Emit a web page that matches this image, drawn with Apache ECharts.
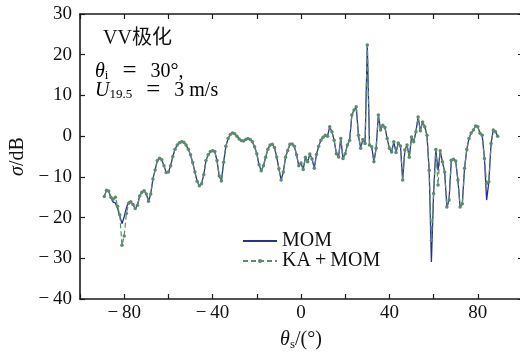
<!DOCTYPE html>
<html><head><meta charset="utf-8">
<script src="https://cdn.jsdelivr.net/npm/echarts@6/dist/echarts.min.js"></script>
<style>html,body{margin:0;padding:0;background:#fff;overflow:hidden}#c{width:520px;height:353px}</style>
</head><body><div id="c"></div>
<script>
const angles = [-89,-88,-87,-86,-85,-84,-83,-82,-81,-80,-79,-78,-77,-76,-75,-74,-73,-72,-71,-70,
-69,-68,-67,-66,-65,-64,-63,-62,-61,-60,-59,-58,-57,-56,-55,-54,-53,-52,-51,-50,
-49,-48,-47,-46,-45,-44,-43,-42,-41,-40,-39,-38,-37,-36,-35,-34,-33,-32,-31,-30,
-29,-28,-27,-26,-25,-24,-23,-22,-21,-20,-19,-18,-17,-16,-15,-14,-13,-12,-11,-10,
-9,-8,-7,-6,-5,-4,-3,-2,-1,0,1,2,3,4,5,6,7,8,9,10,
11,12,13,14,15,16,17,18,19,20,21,22,23,24,25,26,27,28,29,30,
31,32,33,34,35,36,37,38,39,40,41,42,43,44,45,46,47,48,49,50,
51,52,53,54,55,56,57,58,59,60,61,62,63,64,65,66,67,68,69,70,
71,72,73,74,75,76,77,78,79,80,81,82,83,84,85,86,87,88,89];

const momDb = [-14.8,-13.3,-13.5,-15.2,-16.2,-16.4,-17.8,-19.6,-21.5,-19.8,-17.6,-16.2,-16.1,-16.8,-17.8,-17.0,-14.7,-13.8,-13.4,-14.2,
-16.0,-14.2,-10.5,-8.3,-6.0,-5.4,-5.8,-7.3,-8.9,-8.8,-7.3,-5.0,-3.2,-2.2,-1.6,-1.4,-1.5,-2.2,-3.2,-4.6,
-6.5,-8.8,-11.1,-12.2,-11.7,-9.5,-6.0,-4.6,-3.8,-3.6,-3.8,-6.0,-9.8,-11.0,-6.4,-2.5,-0.6,0.4,0.8,0.6,
0.0,-0.7,-1.1,-1.2,-0.8,-0.6,-0.8,-1.4,-2.6,-4.3,-7.0,-8.5,-7.3,-5.2,-3.2,-2.2,-2.0,-2.8,-5.1,-8.0,
-10.8,-8.8,-5.2,-3.5,-2.0,-1.9,-2.5,-4.6,-7.3,-6.6,-8.2,-5.2,-6.3,-4.4,-5.6,-7.9,-4.5,-2.5,-1.0,-0.3,
0.2,0.0,2.3,1.1,-1.0,-4.3,-5.1,-0.6,-5.5,-4.3,-2.2,-1.0,5.2,6.4,7.2,0.2,-3.0,-0.8,-1.8,22.4,
-2.2,-2.6,-6.3,-3.0,5.2,1.5,2.7,2.1,-0.6,-3.0,-3.9,-1.4,-4.0,-1.7,-2.4,-10.8,-3.4,-2.2,-5.2,-0.2,
-1.4,1.1,4.7,1.3,3.5,2.3,0.2,-8.4,-30.9,-14.1,-3.3,-8.4,-3.6,-6.3,-8.8,-17.4,-15.7,-5.9,-5.7,-6.1,
-10.8,-17.4,-16.6,-7.9,-3.3,-0.6,0.8,1.5,2.5,2.3,0.7,0.2,-5.5,-15.7,-11.2,-1.8,1.5,1.1,0.0];

const kaMomDb = [-14.8,-13.3,-13.5,-15.0,-15.5,-15.0,-17.2,-19.3,-26.8,-24.5,-19.0,-16.5,-16.1,-16.8,-17.8,-17.0,-14.7,-13.8,-13.4,-14.2,
-16.0,-14.2,-10.5,-8.3,-6.0,-5.4,-5.8,-7.3,-8.9,-8.8,-7.3,-5.0,-3.2,-2.2,-1.6,-1.4,-1.5,-2.2,-3.2,-4.6,
-6.5,-8.8,-11.1,-12.2,-11.7,-9.5,-6.0,-4.6,-3.8,-3.6,-3.8,-6.0,-9.8,-11.0,-6.4,-2.5,-0.6,0.4,0.8,0.6,
0.0,-0.7,-1.1,-1.2,-0.8,-0.6,-0.8,-1.4,-2.6,-4.3,-7.0,-8.5,-7.3,-5.2,-3.2,-2.2,-2.0,-2.8,-5.1,-8.0,
-10.8,-8.8,-5.2,-3.5,-2.0,-1.9,-2.5,-4.6,-7.3,-6.6,-8.2,-5.2,-6.3,-4.4,-5.6,-7.9,-4.5,-2.5,-1.0,-0.3,
0.2,0.0,2.3,1.1,-1.0,-4.3,-5.1,-0.6,-5.5,-4.3,-2.2,-1.0,5.2,6.4,7.2,0.2,-3.0,-0.8,-1.8,22.4,
-2.2,-2.6,-6.3,-3.0,5.2,1.5,2.7,2.1,-0.6,-3.0,-3.9,-1.4,-4.0,-1.7,-2.4,-10.8,-3.4,-2.2,-5.2,-0.2,
-1.4,1.1,4.7,1.3,3.5,2.3,0.2,-8.4,-25.6,-14.1,-3.3,-12.0,-3.6,-6.3,-8.8,-17.4,-15.7,-5.9,-5.7,-6.1,
-10.8,-17.4,-16.6,-7.9,-3.3,-0.6,0.8,1.5,2.5,2.3,0.7,0.2,-5.5,-11.6,-11.2,-1.8,1.5,1.1,0.0];

const xTickLabels = [-80, -40, 0, 40, 80];
const seriesNames = ['MOM', 'KA+MOM'];

const SERIF = '"Liberation Serif","DejaVu Serif","Noto Sans CJK SC",serif';
const AX = '#1a1a1a';
const TXT = '#111';
function fmtNum(v) { return v < 0 ? '\u2212\u2009' + Math.abs(v) : String(v); }

const chart = echarts.init(document.getElementById('c'), null, {renderer: 'canvas'});
const baseAxis = {
  axisLine: {show: true, onZero: false, lineStyle: {color: AX, width: 1.6}},
  axisTick: {show: true, inside: true, length: 5, lineStyle: {color: AX, width: 1.2}},
  splitLine: {show: false}
};
const richMath = {
  i: {fontStyle: 'italic', fontFamily: SERIF, fontSize: 20, lineHeight: 22, color: TXT},
  s: {fontFamily: SERIF, fontSize: 13, verticalAlign: 'bottom', lineHeight: 22, color: TXT},
  n: {fontFamily: SERIF, fontSize: 20, lineHeight: 22, color: TXT},
  e: {fontFamily: SERIF, fontSize: 25, lineHeight: 22, color: TXT}
};
const SP = '\u2002\u2009';
const EQ = '{n|' + SP + '}{e|=}{n|' + SP + '}';
chart.setOption({
  animation: false,
  backgroundColor: '#fff',
  grid: {left: 80, top: 14, width: 442, height: 285, containLabel: false, outerBoundsMode: 'none'},
  legend: {
    orient: 'vertical', left: 237, top: 226, itemGap: 0, itemWidth: 34, itemHeight: 5,
    formatter: n => n.replace('+', '\u2009+\u2009'),
    textStyle: {fontFamily: SERIF, fontSize: 20, color: TXT, lineHeight: 18},
    data: [{name: seriesNames[0], itemStyle: {opacity: 0}}, {name: seriesNames[1]}]
  },
  xAxis: [
    Object.assign({}, baseAxis, {
      type: 'value', position: 'bottom', min: -100, max: 100, interval: 20,
      axisLabel: {margin: 5, fontFamily: SERIF, fontSize: 19, color: TXT,
        formatter: v => xTickLabels.indexOf(v) >= 0 ? fmtNum(v) : ''},
      name: '{i|θ}{s|s}{n|/(°)}', nameLocation: 'middle', nameGap: 30,
      nameTextStyle: {fontFamily: SERIF, fontSize: 20, color: TXT, rich: richMath}
    }),
    Object.assign({}, baseAxis, {
      type: 'value', position: 'top', min: -100, max: 100, interval: 20,
      axisLabel: {show: false}
    })
  ],
  yAxis: [
    Object.assign({}, baseAxis, {
      type: 'value', position: 'left', min: -40, max: 30, interval: 10,
      axisLabel: {margin: 8, fontFamily: SERIF, fontSize: 19, color: TXT, formatter: fmtNum},
      name: '{i|σ}{n|/dB}', nameLocation: 'middle', nameGap: 39, nameRotate: 90,
      nameTextStyle: {fontFamily: SERIF, fontSize: 20, color: TXT, rich: richMath}
    }),
    Object.assign({}, baseAxis, {
      type: 'value', position: 'right', offset: 4, min: -40, max: 30, interval: 10,
      axisTick: {show: true, inside: true, length: 8, lineStyle: {color: AX, width: 1.2}},
      axisLabel: {show: false}
    })
  ],
  graphic: [
    {type: 'text', left: 103, top: 29, style: {text: 'VV极化', fontFamily: SERIF, fontSize: 20, fill: TXT}},
    {type: 'text', left: 95, top: 59, style: {text: '{i|θ}{s|i}' + EQ + '{n|30°,}', rich: richMath}},
    {type: 'text', left: 95, top: 78, style: {text: '{i|U}{s|19.5}' + EQ + '{n|3 m/s}', rich: richMath}}
  ],
  series: [
    {
      name: seriesNames[0], type: 'line', xAxisIndex: 0, yAxisIndex: 0,
      data: angles.map((a, i) => [a, momDb[i]]),
      symbol: 'none', lineStyle: {color: '#29318a', width: 1.3}, itemStyle: {color: '#29318a'}, z: 2
    },
    {
      name: seriesNames[1], type: 'line', xAxisIndex: 0, yAxisIndex: 0,
      data: angles.map((a, i) => [a, kaMomDb[i]]),
      symbol: 'circle', symbolSize: 3.5, showSymbol: true,
      lineStyle: {color: '#5e8a6e', width: 1.2, type: [5, 3]},
      itemStyle: {color: '#5e8a6e'}, z: 3
    }
  ]
});
</script></body></html>
